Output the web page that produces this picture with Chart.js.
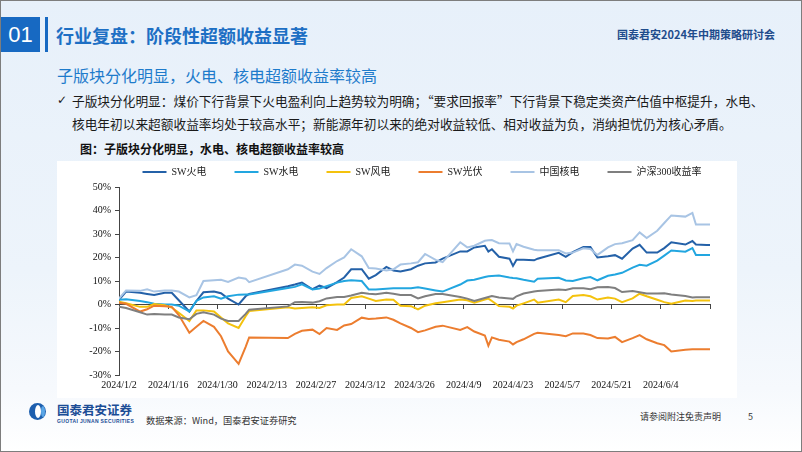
<!DOCTYPE html>
<html><head><meta charset="utf-8">
<script src="https://cdn.jsdelivr.net/npm/chart.js@4.4.1/dist/chart.umd.min.js"></script>
<style>
html,body{margin:0;padding:0;}
body{width:802px;height:452px;overflow:hidden;font-family:"Noto Sans CJK SC","Noto Sans",sans-serif;}
.slide{position:relative;width:802px;height:452px;background:linear-gradient(180deg,#E7F0FA 0%,#EDF4FB 60%,#F6F9FD 86%,#FFFFFF 100%);overflow:hidden;box-shadow:inset 0 0 0 1px #7d7d7d;}
.abs{position:absolute;white-space:nowrap;line-height:1;}
.num{left:1px;top:17px;width:39px;height:35px;background:#1769C2;color:#fff;font:22px "Liberation Sans Narrow","Liberation Sans",sans-serif;text-align:center;line-height:35px;}
.bar{left:45px;top:17px;width:3px;height:35px;background:#1769C2;}
.title{left:56px;top:26px;font-size:18px;font-weight:700;color:#1D6FC4;}
.brand{left:617px;top:29px;font-size:11px;font-weight:700;color:#1F4C8C;}
.sub{left:57px;top:67px;font-size:16px;color:#1E7BCB;}
.body{left:57px;top:89px;font-size:12.7px;color:#1a1a1a;line-height:23px;white-space:nowrap;}
.body .chk{position:absolute;left:0;top:0;font-family:"DejaVu Sans",sans-serif;font-size:12px;}
.body .txt{position:absolute;left:15px;top:0;}
.cap{left:80px;top:143px;font-size:12px;font-weight:700;color:#111;}
.white{left:57px;top:161px;width:680px;height:237px;background:#fff;}
.chartwrap{position:absolute;left:57px;top:139px;width:704px;height:261px;}
.logo{left:29px;top:403px;width:17px;height:17px;border-radius:50%;background:#1d5fae;overflow:hidden;}
.logo-in{position:absolute;left:6px;top:2px;width:6px;height:13px;border-radius:50%;background:#fff;}
.logo-in2{position:absolute;left:12px;top:3px;width:4px;height:11px;border-radius:50%;background:#5aa6e6;}
.gj{left:57px;top:404px;font-size:12.5px;font-weight:700;color:#1B4D96;}
.gjen{left:57px;top:418px;font:bold 5px "Liberation Sans",sans-serif;color:#1B4D96;letter-spacing:0.35px;}
.src{left:146px;top:416px;font-size:9.2px;color:#333;}
.disc{left:640px;top:412px;font-size:9px;color:#333;}
.page{left:748px;top:412px;font-size:9px;color:#333;}
</style></head>
<body>
<div class="slide">
  <div class="abs num">01</div>
  <div class="abs bar"></div>
  <div class="abs title">行业复盘：阶段性超额收益显著</div>
  <div class="abs brand">国泰君安2024年中期策略研讨会</div>
  <div class="abs sub">子版块分化明显，火电、核电超额收益率较高</div>
  <div class="abs body" style="width:700px;height:50px;">
    <span class="chk">✓</span>
    <div class="txt">子版块分化明显：煤价下行背景下火电盈利向上趋势较为明确；“要求回报率”下行背景下稳定类资产估值中枢提升，水电、<br>核电年初以来超额收益率均处于较高水平；新能源年初以来的绝对收益较低、相对收益为负，消纳担忧仍为核心矛盾。</div>
  </div>
  <div class="abs cap">图：子版块分化明显，水电、核电超额收益率较高</div>
  <div class="abs white"></div>
  <div class="chartwrap"><canvas id="c" width="704" height="261"></canvas></div>
  <div class="abs logo"><div class="logo-in"></div><div class="logo-in2"></div></div>
  <div class="abs gj">国泰君安证券</div>
  <div class="abs gjen">GUOTAI JUNAN SECURITIES</div>
  <div class="abs src">数据来源：Wind，国泰君安证券研究</div>
  <div class="abs disc">请参阅附注免责声明</div>
  <div class="abs page">5</div>
</div>
<script>
const dates = ['2024-01-02','2024-01-04','2024-01-08','2024-01-10','2024-01-12','2024-01-15','2024-01-17','2024-01-19','2024-01-22','2024-01-24','2024-01-26','2024-01-29','2024-01-31',
'2024-02-02','2024-02-05','2024-02-07','2024-02-08','2024-02-19','2024-02-21','2024-02-23','2024-02-26','2024-02-28',
'2024-03-01','2024-03-04','2024-03-06','2024-03-08','2024-03-11','2024-03-13','2024-03-15','2024-03-18','2024-03-20','2024-03-22','2024-03-25','2024-03-27','2024-03-29',
'2024-04-01','2024-04-03','2024-04-08','2024-04-10','2024-04-12','2024-04-15','2024-04-16','2024-04-17','2024-04-19','2024-04-22','2024-04-23','2024-04-24','2024-04-26','2024-04-29','2024-04-30',
'2024-05-06','2024-05-08','2024-05-10','2024-05-13','2024-05-15','2024-05-17','2024-05-20','2024-05-22','2024-05-24','2024-05-27','2024-05-29','2024-05-31',
'2024-06-03','2024-06-05','2024-06-07','2024-06-11','2024-06-13','2024-06-14','2024-06-17','2024-06-18'];

const tickLabels = ['2024/1/2','2024/1/16','2024/1/30','2024/2/13','2024/2/27','2024/3/12','2024/3/26','2024/4/9','2024/4/23','2024/5/7','2024/5/21','2024/6/4',''];
const yTicks = [-30,-20,-10,0,10,20,30,40,50];

const swThermal = [2.0,5.5,5.0,4.5,4.0,5.0,5.0,1.8,-3.0,1.5,5.2,5.5,4.8,
 2.5,0.0,3.5,4.5,7.8,8.5,9.3,6.5,8.0,
 7.0,9.5,11.5,15.0,15.0,11.0,12.5,16.0,14.5,14.0,15.0,16.5,17.5,
 17.9,19.5,22.6,22.6,24.3,25.0,22.5,23.5,20.3,19.5,16.4,19.0,19.0,18.8,19.5,
 22.0,20.3,22.3,24.5,24.5,20.0,20.5,21.0,19.5,23.8,25.4,22.1,
 22.1,24.0,26.5,25.5,27.0,25.5,25.3,25.3];
const swHydro = [2.0,2.2,1.5,1.0,0.3,0.0,0.0,-0.5,-3.0,1.5,3.0,3.5,2.5,
 3.5,4.2,4.3,4.3,7.0,7.5,8.6,6.4,6.8,
 7.8,9.3,10.0,10.3,10.0,6.4,6.4,6.7,6.9,6.9,6.9,7.3,6.8,
 6.0,5.5,8.5,10.2,10.5,11.7,12.0,12.1,12.3,11.5,11.3,11.2,10.5,9.7,11.0,
 11.4,10.2,10.0,11.2,11.7,10.3,12.2,12.8,13.5,15.7,16.9,16.5,
 18.7,20.8,23.0,22.5,24.0,21.1,21.1,21.1];
const swWind = [1.2,0.5,-1.0,-1.0,0.2,-0.3,-1.3,-3.5,-7.0,-2.5,-2.5,-3.0,-5.5,
 -8.0,-10.0,-5.0,-2.8,-1.2,-1.7,-1.5,-1.2,-1.5,
 -0.3,0.0,0.0,2.8,3.5,2.5,1.5,2.1,2.0,-0.5,-0.7,-2.1,-0.5,
 0.5,1.0,2.1,1.8,0.8,2.1,2.5,1.5,-0.7,-1.0,-1.7,-0.5,0.5,2.1,0.8,
 2.1,1.0,3.6,4.0,3.5,2.1,3.0,2.5,1.0,2.6,4.6,3.5,
 2.0,1.0,0.3,1.7,1.5,1.7,1.7,1.7];
const swSolar = [0.7,0.3,-3.0,-2.0,-0.5,-0.7,-1.0,-4.5,-12.0,-9.5,-7.0,-9.5,-13.5,
 -20.0,-25.3,-18.0,-14.0,-14.3,-12.5,-11.2,-10.7,-12.6,
 -10.0,-10.8,-8.9,-8.3,-5.6,-6.2,-6.0,-5.5,-6.5,-8.0,-10.0,-11.8,-11.0,
 -9.5,-9.0,-10.8,-9.6,-11.5,-13.2,-17.5,-14.0,-15.0,-15.8,-17.0,-16.0,-14.8,-12.5,-12.0,
 -13.0,-13.5,-12.3,-12.3,-13.0,-14.3,-14.5,-13.8,-16.0,-14.3,-13.0,-14.8,
 -16.5,-17.3,-20.0,-19.3,-19.0,-19.0,-19.0,-19.0];
const cnNuclear = [2.5,6.0,5.8,6.5,5.5,6.0,6.0,5.5,3.0,4.0,10.0,10.3,10.5,
 9.6,11.5,11.0,9.5,15.0,17.0,16.5,14.0,13.0,
 15.5,18.5,20.0,23.5,20.5,15.5,15.3,14.5,15.0,17.0,17.5,18.0,21.5,
 19.0,18.0,26.5,24.3,25.0,27.1,27.3,27.4,26.1,26.0,22.6,25.7,24.6,23.3,23.1,
 23.1,21.7,22.1,23.9,23.6,21.1,24.3,25.7,26.1,27.4,30.7,28.3,
 31.4,34.7,37.9,37.4,39.0,34.0,34.0,34.0];
const hs300 = [-1.0,-1.5,-3.3,-4.3,-4.0,-4.3,-4.3,-5.5,-6.3,-4.0,-3.3,-4.3,-6.0,
 -7.0,-7.0,-4.0,-2.2,-0.8,1.0,1.1,0.8,1.4,
 2.6,3.2,3.2,3.8,5.0,4.6,4.4,5.0,4.6,4.0,4.0,2.6,3.5,
 4.5,4.5,3.2,2.5,1.5,2.8,3.2,3.6,3.0,2.6,2.4,3.5,4.7,5.5,5.7,
 6.4,6.2,6.9,6.9,6.5,7.3,7.4,7.0,5.3,5.7,5.2,4.7,
 4.7,4.8,4.3,3.6,3.0,3.1,3.1,3.1];

const seriesNames = ['SW火电','SW水电','SW风电','SW光伏','中国核电','沪深300收益率'];
const seriesValues = [swThermal, swHydro, swWind, swSolar, cnNuclear, hs300];
const seriesColors = ['#2461A8','#22A6E0','#F4C20D','#EC7D2F','#A8C4E4','#7F7F7F'];

const DAY0 = Date.UTC(2024,0,2);
const xs = dates.map(d => { const p = d.split('-').map(Number); return (Date.UTC(p[0], p[1]-1, p[2]) - DAY0) / 86400000; });
const xMax = 168;

const serif = '"Liberation Serif","Times New Roman","Noto Sans CJK SC",serif';

new Chart(document.getElementById('c'), {
  type: 'line',
  data: {
    datasets: seriesNames.map((name, i) => ({
      label: name,
      data: xs.map((x, j) => ({x: x, y: seriesValues[i][j]})),
      borderColor: seriesColors[i],
      backgroundColor: seriesColors[i],
      borderWidth: 2,
      pointRadius: 0,
      pointHoverRadius: 0,
      tension: 0,
      fill: false,
      order: seriesNames.length - i
    }))
  },
  options: {
    responsive: false,
    animation: false,
    devicePixelRatio: 1,
    layout: { padding: { left: 26, right: 0, top: 0, bottom: 0 } },
    plugins: {
      tooltip: { enabled: false },
      legend: {
        display: true, position: 'top', align: 'center', fullSize: true,
        labels: {
          usePointStyle: true, pointStyle: 'line', pointStyleWidth: 24, boxHeight: 10,
          padding: 28, color: '#222', font: { family: serif, size: 10 },
          sort: (a, b) => a.datasetIndex - b.datasetIndex
        }
      }
    },
    scales: {
      x: {
        type: 'linear', min: 0, max: xMax, position: 'bottom',
        grid: { display: false, drawTicks: false },
        border: { display: false },
        ticks: { stepSize: 14, autoSkip: false, maxRotation: 0, padding: 4, color: '#111',
          font: { family: serif, size: 10 },
          callback: (v, i) => (tickLabels[i] !== undefined ? tickLabels[i] : '') },
        afterFit: s => { s.height = 25; }
      },
      x2: {
        type: 'linear', axis: 'x', min: 0, max: xMax, position: { y: 0 },
        grid: { display: true, drawOnChartArea: false, drawTicks: true, tickLength: 4, color: '#444', lineWidth: 1 },
        border: { display: true, color: '#444', width: 1 },
        ticks: { display: false, stepSize: 14, autoSkip: false }
      },
      y: {
        type: 'linear', min: yTicks[0], max: yTicks[yTicks.length - 1], position: 'left',
        grid: { display: true, drawOnChartArea: false, drawTicks: true, tickLength: 4, color: '#444' },
        border: { display: true, color: '#444', width: 1 },
        ticks: { stepSize: 10, padding: 4, color: '#111', font: { family: serif, size: 10 }, callback: v => v + '%' },
        afterFit: s => { s.width = 36; }
      },
      yR: {
        type: 'linear', axis: 'y', position: 'right', min: yTicks[0], max: yTicks[yTicks.length - 1],
        grid: { display: false }, border: { display: false }, ticks: { display: false },
        afterFit: s => { s.width = 51; }
      }
    }
  }
});
</script>
</body></html>
